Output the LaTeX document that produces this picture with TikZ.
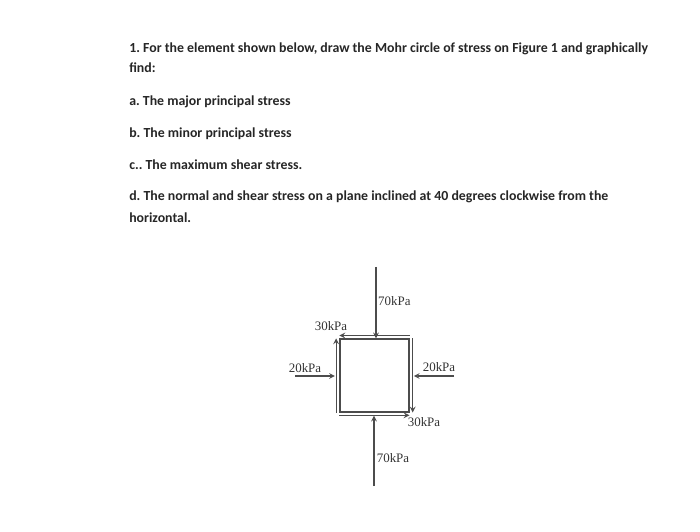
\documentclass[tikz,border=0pt]{standalone}
\usepackage{fontspec}
\setmainfont{Carlito}
\newfontfamily\labelfont{Liberation Serif}
\usetikzlibrary{positioning}
\tikzset{
  para/.style={anchor=base west,inner sep=0,font=\fontsize{9.85pt}{12pt}\selectfont\bfseries,text=black!85},
  load/.style={inner sep=0,font=\labelfont\fontsize{9.2pt}{10pt}\selectfont,text=black!80},
  force/.style={->,>=stealth,black!70,line width=0.28mm},
  shear/.style={->,>=stealth,black!70,line width=0.3mm},
  elem/.style={draw=black!70,line width=0.3mm,minimum width=17.25mm,minimum height=18.25mm,inner sep=0}
}
\begin{document}
\begin{tikzpicture}
\useasboundingbox (0,0) rectangle (175mm,132.75mm);
\node[para] (q1) at (32.25mm,119.5mm) {1.\ For the element shown below, draw the Mohr circle of stress on Figure 1 and graphically};
\node[para] (q1b) at (32.25mm,114.5mm) {find:};
\node[para] (qa) at (32.25mm,106.25mm) {a.\ The major principal stress};
\node[para] (qb) at (32.25mm,98.25mm) {b.\ The minor principal stress};
\node[para] (qc) at (32.25mm,90.25mm) {c..\ The maximum shear stress.};
\node[para] (qd) at (32.25mm,82.5mm) {d.\ The normal and shear stress on a plane inclined at 40 degrees clockwise from the};
\node[para] (qd2) at (32.25mm,77mm) {horizontal.};
% element
\node[elem] (box) at (93.6mm,38.9mm) {};
% free ends of the loads
\coordinate (topend) at (94mm,66mm);
\coordinate (botend) at (93.5mm,11.25mm);
\coordinate (lftend) at (73.75mm,38.75mm);
\coordinate (rgtend) at (113.5mm,38.75mm);
\draw[force] (topend) -- (topend |- box.north);
\draw[force] (botend) -- ([yshift=-0.8mm]botend |- box.south);
\draw[force] (lftend) -- ([xshift=-1.1mm]box.west |- lftend);
\draw[force] (rgtend) -- ([xshift=1.1mm]box.east |- rgtend);
% shear
\draw[shear] ([yshift=0.7mm]box.north east) -- ([yshift=0.7mm]box.north west);
\draw[shear] ([xshift=0.8mm]box.north east) -- ([xshift=0.8mm]box.south east);
\draw[shear] ([yshift=-0.7mm]box.south west) -- ([yshift=-0.7mm]box.south east);
\draw[shear] ([xshift=-0.8mm]box.south west) -- ([xshift=-0.8mm]box.north west);
% labels
\node[load] (ltop) at (98.6mm,57.5mm) {70kPa};
\node[load] (lsa) at (82.75mm,51.25mm) {30kPa};
\node[load] (llft) at (76.25mm,40.75mm) {20kPa};
\node[load] (lrgt) at (109.75mm,41mm) {20kPa};
\node[load] (lsb) at (106mm,27.25mm) {30kPa};
\node[load] (lbot) at (98.25mm,18.25mm) {70kPa};
\end{tikzpicture}
\end{document}
